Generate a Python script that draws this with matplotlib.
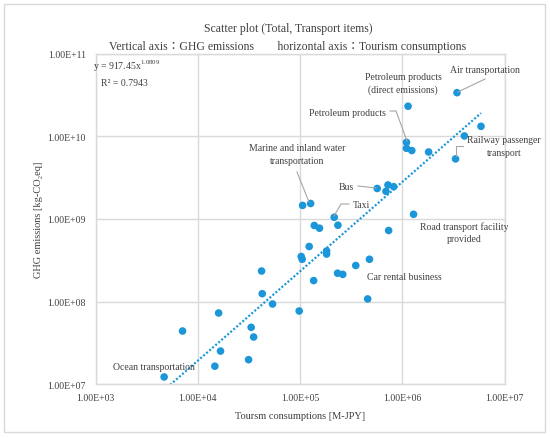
import numpy as np
import matplotlib.pyplot as plt
from matplotlib.ticker import FuncFormatter, NullLocator
from matplotlib.patches import Rectangle

plt.rcParams['font.family'] = ['Liberation Serif', 'Noto Sans CJK JP', 'DejaVu Serif']
plt.rcParams['mathtext.fontset'] = 'custom'
plt.rcParams['mathtext.rm'] = 'Liberation Serif'

# tourism consumption [M-JPY] and GHG emissions [kg-CO2eq], transport items
consumption = [4690, 7100, 14700, 16000, 16700, 31400, 33300, 35200, 42100, 42700,
               53900, 98200, 102800, 105100, 106000, 127000, 123000, 136000, 138000, 155000,
               182000, 182000, 216000, 235000, 233000, 262000, 351000, 459000, 478000, 569000,
               693000, 725000, 824000, 736000, 1.29e6, 1.10e6, 1.10e6, 1.24e6, 1.14e6, 1.81e6,
               3.32e6, 3.43e6, 4.05e6, 5.89e6]
emissions = [1.23e7, 4.42e7, 1.66e7, 7.30e7, 2.53e7, 1.99e7, 4.90e7, 3.74e7, 2.35e8, 1.25e8,
             9.38e7, 7.72e7, 3.52e8, 3.26e8, 1.46e9, 1.54e9, 4.65e8, 1.80e8, 8.35e8, 7.74e8,
             4.10e8, 3.77e8, 1.05e9, 8.41e8, 2.21e8, 2.14e8, 2.74e8, 1.08e8, 3.26e8, 2.34e9,
             2.16e9, 2.58e9, 2.46e9, 7.26e8, 1.14e9, 8.46e9, 7.16e9, 6.73e9, 2.31e10, 6.46e9,
             5.33e9, 3.37e10, 1.01e10, 1.32e10]

# power trendline y = a * x^b
coef_a = 917.45
coef_b = 1.0809
r2 = 0.7943

labels = ["Air transportation", "Petroleum products\n(direct emissions)", "Petroleum products",
          "Railway passenger\ntransport", "Marine and inland water\ntransportation", "Bus", "Taxi",
          "Road transport facility\nprovided", "Car rental business", "Ocean transportation"]
# label centres in pixels (from top-left)
label_pos = [(485, 71), (403, 84), (347, 113), (504, 147), (297, 155), (346, 188), (361, 206),
             (464, 233), (404, 277), (154, 368)]
leaders = [[(485, 80), (458, 93)],
           [(390, 112), (396, 112), (407, 142)],
           [(463, 147), (456, 147), (456, 157)],
           [(297, 173), (309, 203)],
           [(358, 187), (376, 189)],
           [(349, 205), (341, 205), (334, 217)]]

W, H = 550, 439
blue = '#1b96d9'
grid = '#d9d9d9'
txt = '#404040'

fig = plt.figure(figsize=(W / 100, H / 100), dpi=100)
ax = fig.add_axes([95.5 / W, 1 - 385.4 / H, 409 / W, 330.8 / H])

def fx(p):
    return p / W

def fy(p):
    return 1 - p / H

ax.scatter(consumption, emissions, s=30, color=blue, edgecolors='none', zorder=3)

xt = np.logspace(np.log10(min(consumption)), np.log10(max(consumption)), 200)
ax.plot(xt, coef_a * xt ** coef_b, color=blue, lw=1.6, ls=(0, (0.9, 0.9)), zorder=2)

ax.set_xscale('log')
ax.set_yscale('log')
ax.set_xlim(1e3, 1e7)
ax.set_ylim(1e7, 1e11)
fmt = FuncFormatter(lambda v, p: f"{v:.2E}")
ax.xaxis.set_major_formatter(fmt)
ax.yaxis.set_major_formatter(fmt)
ax.xaxis.set_minor_locator(NullLocator())
ax.yaxis.set_minor_locator(NullLocator())
ax.tick_params(length=0, labelsize=7, colors=txt)
ax.tick_params(axis='x', pad=6)
ax.tick_params(axis='y', pad=7)
ax.grid(True, color=grid, lw=1)
for s in ax.spines.values():
    s.set_color(grid)
    s.set_linewidth(1)

ax.set_xlabel("Toursm consumptions [M-JPY]", fontsize=7.5, color=txt, labelpad=7)
ax.set_ylabel("GHG emissions [kg-CO₂eq]", fontsize=7.5, color=txt, labelpad=3)

fig.text(fx(288), fy(29), "Scatter plot (Total, Transport items)", ha='center', va='center',
         fontsize=8.5, color=txt)
fig.text(fx(288), fy(47), "Vertical axis：GHG emissions　　horizontal axis：Tourism consumptions",
         ha='center', va='center', fontsize=8.5, color=txt)

fig.text(fx(93), fy(66), r"y = %.2fx$^{\mathregular{%.4f}}$" % (coef_a, coef_b), ha='left',
         va='center', fontsize=7, color=txt)
fig.text(fx(101), fy(83), "R² = %.4f" % r2, ha='left', va='center', fontsize=7, color=txt)

for lab, (px, py) in zip(labels, label_pos):
    fig.text(fx(px), fy(py), lab, ha='center', va='center', fontsize=7, color=txt,
             linespacing=1.45)
for pts in leaders:
    ax.plot([fx(p[0]) for p in pts], [fy(p[1]) for p in pts], color='#a6a6a6', lw=0.8,
            transform=fig.transFigure, clip_on=False, zorder=4)

fig.patches.append(Rectangle((fx(4), fy(433)), fx(541), fy(5) - fy(433), transform=fig.transFigure,
                             fill=False, edgecolor=grid, lw=1))

fig.savefig('out.png', dpi=100)
